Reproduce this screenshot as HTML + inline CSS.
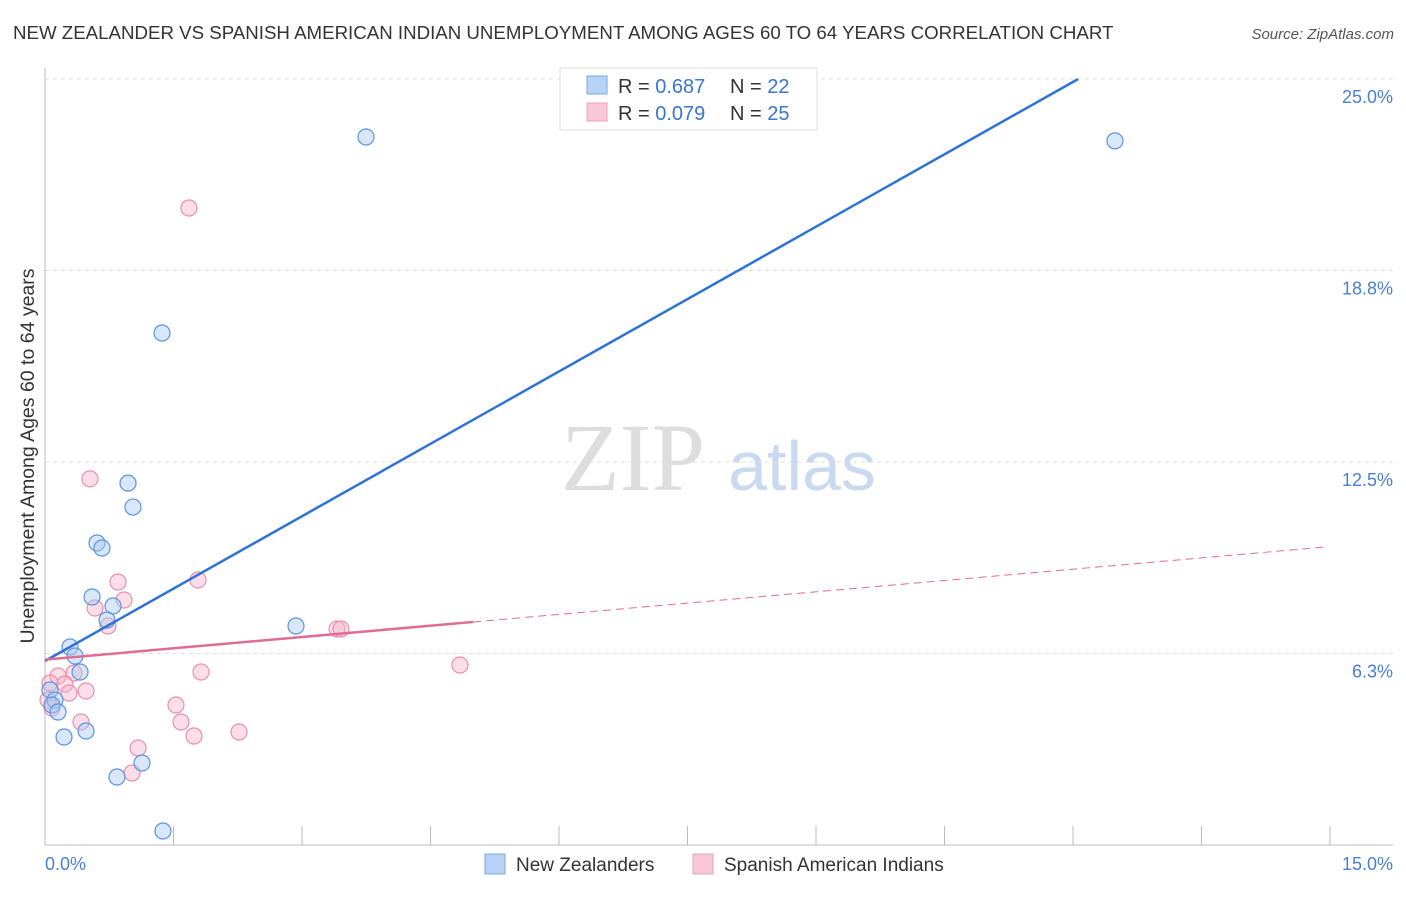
<!DOCTYPE html>
<html><head><meta charset="utf-8"><style>
body{margin:0;background:#fff;width:1406px;height:892px;overflow:hidden;font-family:"Liberation Sans",sans-serif}
</style></head><body>
<svg id="chart" width="1406" height="892" xmlns="http://www.w3.org/2000/svg" font-family="Liberation Sans, sans-serif">
<text x="13" y="39" font-size="18.7" fill="#333">NEW ZEALANDER VS SPANISH AMERICAN INDIAN UNEMPLOYMENT AMONG AGES 60 TO 64 YEARS CORRELATION CHART</text>
<text x="1394" y="39" font-size="15" fill="#555" text-anchor="end" font-style="italic">Source: ZipAtlas.com</text>
<g>
<text x="633" y="490" font-size="96" fill="#ddd" font-family="Liberation Serif, serif" text-anchor="middle">ZIP</text>
<text x="802" y="490" font-size="70" fill="#c9daf0" text-anchor="middle">atlas</text>
</g>
<g id="grid"></g><g id="axes"></g><g id="marks"></g>
<text transform="translate(34,456) rotate(-90)" font-size="19.5" fill="#333" text-anchor="middle">Unemployment Among Ages 60 to 64 years</text>
<text x="45" y="870" font-size="18" fill="#4a7fd0">0.0%</text>
<text x="1393" y="870" font-size="18" fill="#4a7fd0" text-anchor="end">15.0%</text>
<g>
<rect x="560" y="68" width="257" height="62" fill="#fff" stroke="#ddd"/>
<rect x="587" y="76" width="20" height="18" fill="#b7d3f7" stroke="#7aa7e0"/>
<rect x="587" y="103" width="20" height="18" fill="#f9c8d6" stroke="#eea0b8"/>
<text x="618" y="93" font-size="20" fill="#333">R = <tspan fill="#3a75d0">0.687</tspan></text>
<text x="730" y="93" font-size="20" fill="#333">N = <tspan fill="#3a75d0">22</tspan></text>
<text x="618" y="120" font-size="20" fill="#333">R = <tspan fill="#3a75d0">0.079</tspan></text>
<text x="730" y="120" font-size="20" fill="#333">N = <tspan fill="#3a75d0">25</tspan></text>
</g>
<g>
<rect x="485" y="854" width="20" height="20" fill="#b7d3f7" stroke="#7aa7e0"/>
<text x="516" y="871" font-size="19" fill="#333">New Zealanders</text>
<rect x="693" y="854" width="20" height="20" fill="#f9c8d6" stroke="#eea0b8"/>
<text x="724" y="871" font-size="19" fill="#333">Spanish American Indians</text>
</g>
</svg>
<script>
const yTicks=[6.25,12.5,18.75,25];
const yTickLabels=["6.3%","12.5%","18.8%","25.0%"];
const blueX=[3.747,12.49,1.366,0.969,1.027,0.607,0.665,0.549,0.794,0.724,2.930,0.292,0.350,0.409,0.058,0.117,0.082,0.152,0.222,0.479,1.132,0.840,1.377];
const blueY=[23.107,22.98,16.71,11.81,11.03,9.856,9.693,8.094,7.80,7.343,7.147,6.462,6.168,5.646,5.059,4.732,4.569,4.341,3.525,3.721,2.676,2.219,0.457];
const pinkX=[1.681,0.525,0.852,1.786,0.584,0.922,0.735,3.409,3.455,4.844,1.821,0.339,0.152,0.233,0.058,0.479,0.280,0.035,0.082,0.420,1.529,1.588,1.739,2.265,1.086,1.016];
const pinkY=[20.79,11.95,8.584,8.649,7.735,7.996,7.147,7.050,7.050,5.875,5.646,5.614,5.516,5.255,5.287,5.026,4.961,4.732,4.471,4.014,4.569,4.014,3.557,3.688,3.166,2.350];
const blueFit=[6.005,1.575];
const pinkFit=[6.05,0.246];
const NS="http://www.w3.org/2000/svg";
const X=v=>45+v/15*1285, Y=v=>845-v/6.25*191.5;
function mk(t,a,p){const e=document.createElementNS(NS,t);for(const k in a)e.setAttribute(k,a[k]);p.appendChild(e);return e;}
const grid=document.getElementById('grid'),axes=document.getElementById('axes'),marks=document.getElementById('marks');
yTicks.forEach((t,i)=>{
 const l=mk('line',{x1:45,x2:1393,y1:Y(t),y2:Y(t),stroke:'#ddd','stroke-dasharray':'4,4'},grid);
 
 
 const tx=mk('text',{x:1393,y:Y(t)+24,'font-size':18,fill:'#4a7fd0','text-anchor':'end'},grid);
 tx.textContent=yTickLabels[i];
 
 
});
let a=mk('line',{x1:45,x2:45,y1:68,y2:845,stroke:'#bbb'},axes);


a=mk('line',{x1:45,x2:1393,y1:845,y2:845,stroke:'#bbb'},axes);


for(let i=0;i<=10;i++){const t=mk('line',{x1:X(i*1.5),x2:X(i*1.5),y1:826,y2:845,stroke:'#bbb'},axes);
 
 }
function pts(xs,ys,fill,stroke,name){xs.forEach((x,i)=>{const c=mk('circle',{cx:X(x),cy:Y(ys[i]),r:8,fill:fill,'fill-opacity':0.45,stroke:stroke,'stroke-width':1.2},marks);
 
 });}
pts(pinkX,pinkY,'#f7b6ca','#e890ad','pink-point');
pts(blueX,blueY,'#a9c9f2','#5d93dc','blue-point');
const bx2=(25-blueFit[0])/blueFit[1];
let ln=mk('line',{x1:X(0),y1:Y(blueFit[0]),x2:X(bx2),y2:Y(25),stroke:'#2f72d6','stroke-width':2.5},marks);


ln=mk('line',{x1:X(0),y1:Y(pinkFit[0]),x2:X(5),y2:Y(pinkFit[0]+5*pinkFit[1]),stroke:'#e06b94','stroke-width':2.5},marks);


ln=mk('line',{x1:X(5),y1:Y(pinkFit[0]+5*pinkFit[1]),x2:X(14.94),y2:Y(pinkFit[0]+14.94*pinkFit[1]),stroke:'#e06b94','stroke-width':1,'stroke-dasharray':'8,5'},marks);


</script>
</body></html>
